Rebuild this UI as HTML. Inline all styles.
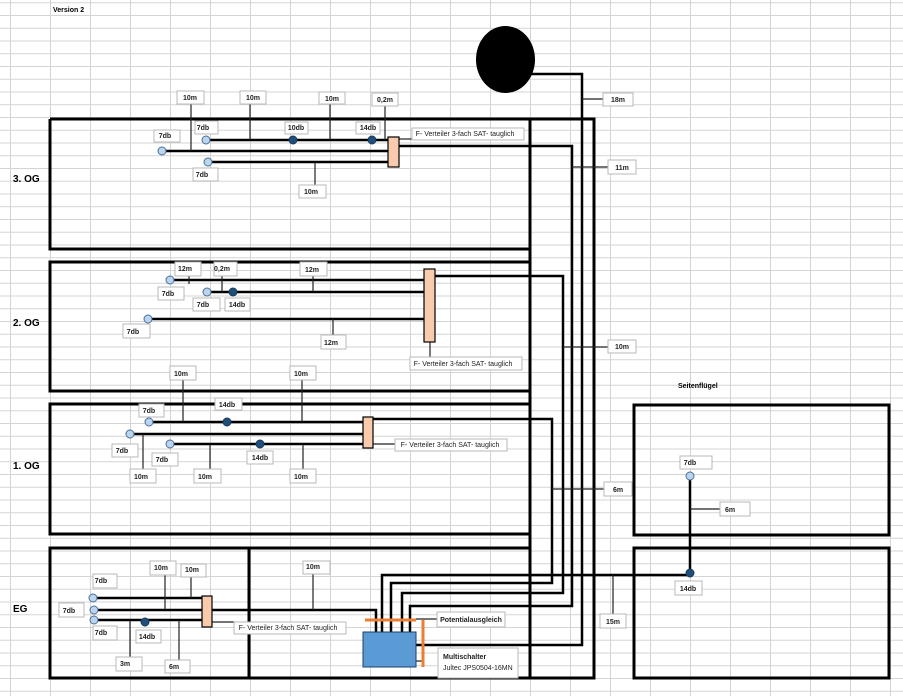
<!DOCTYPE html>
<html><head><meta charset="utf-8"><style>
html,body{margin:0;padding:0;background:#fff;}
svg{display:block;}
text{font-family:"Liberation Sans",sans-serif;}
.lb{fill:#fff;stroke:#b8b8b8;stroke-width:1;}
.lt{font-size:7px;font-weight:bold;fill:#222;text-anchor:middle;}
.k{stroke:#000;stroke-width:3;fill:none;}
.c{stroke:#000;stroke-width:2.5;fill:none;}
.t{stroke:#222;stroke-width:1.2;fill:none;}
.lc{fill:#bcd5ee;stroke:#4a6f9a;stroke-width:1;}
.dc{fill:#1f4e79;stroke:#173c5e;stroke-width:1;}
.sp{fill:#f8cbad;stroke:#000;stroke-width:1.2;}
</style></head><body>
<svg width="903" height="696" viewBox="0 0 903 696" xmlns="http://www.w3.org/2000/svg">
<defs>
<pattern id="gc" x="10" y="0" width="40" height="696" patternUnits="userSpaceOnUse"><line x1="0.5" y1="0" x2="0.5" y2="696" stroke="#d4d4d4" stroke-width="1"/></pattern>
<pattern id="gr" x="0" y="2.25" width="903" height="12.75" patternUnits="userSpaceOnUse"><line x1="0" y1="0.5" x2="903" y2="0.5" stroke="#d4d4d4" stroke-width="1"/></pattern>
</defs>
<rect width="903" height="696" fill="url(#gr)"/>
<rect width="903" height="696" fill="url(#gc)"/>

<text x="53" y="12" style="font-size:7px;font-weight:bold">Version 2</text>
<text x="678" y="388" style="font-size:7px;font-weight:bold">Seitenflügel</text>
<text x="13" y="182" style="font-size:10px;font-weight:bold">3. OG</text>
<text x="13" y="326" style="font-size:10px;font-weight:bold">2. OG</text>
<text x="13" y="469" style="font-size:10px;font-weight:bold">1. OG</text>
<text x="13" y="612" style="font-size:10px;font-weight:bold">EG</text>

<ellipse cx="505.5" cy="59.5" rx="29.5" ry="33.5" fill="#000"/>

<polyline class="k" points="50,119 594,119 594,678 50,678 50,548 530,548"/>
<line class="k" x1="530" y1="119" x2="530" y2="678"/>
<polyline class="k" points="530,249 50,249 50,119"/>
<polyline class="k" points="530,262 50,262 50,391 530,391"/>
<polyline class="k" points="530,404 50,404 50,534 530,534"/>
<line class="k" x1="249" y1="548" x2="249" y2="678"/>
<rect class="k" x="634" y="405" width="255" height="130"/>
<rect class="k" x="634" y="548" width="255" height="130"/>

<polyline class="c" points="530,74 582,74 582,645 416,645"/>
<polyline class="c" points="399,146 572,146 572,606 410,606 410,632"/>
<polyline class="c" points="435,276 563,276 563,593 402,593 402,632"/>
<polyline class="c" points="373,419 552,419 552,583 391,583 391,632"/>
<polyline class="c" points="690,575 382,575 382,632"/>
<polyline class="c" points="212,610 376,610 376,632"/>
<line class="c" x1="690" y1="476" x2="690" y2="575"/>

<line class="t" x1="582" y1="99" x2="603" y2="99"/>
<line class="t" x1="572" y1="167" x2="608" y2="167"/>
<line class="t" x1="563" y1="347" x2="608" y2="347"/>
<line class="t" x1="552" y1="489" x2="604" y2="489"/>
<line class="t" x1="613" y1="575" x2="613" y2="614"/>
<line class="t" x1="690" y1="509" x2="720" y2="509"/>

<line class="c" x1="206" y1="140" x2="388" y2="140"/>
<line class="c" x1="162" y1="151" x2="388" y2="151"/>
<line class="c" x1="208" y1="162" x2="388" y2="162"/>
<line class="t" x1="191" y1="104" x2="191" y2="151"/>
<line class="t" x1="250" y1="104" x2="250" y2="140"/>
<line class="t" x1="330" y1="104" x2="330" y2="140"/>
<line class="t" x1="385" y1="106" x2="385" y2="140"/>
<line class="t" x1="315" y1="162" x2="315" y2="185"/>
<line class="t" x1="399" y1="139" x2="412" y2="139"/>
<rect class="sp" x="388" y="137" width="11" height="30"/>
<circle class="lc" cx="206" cy="140" r="4"/>
<circle class="lc" cx="162" cy="151" r="4"/>
<circle class="lc" cx="208" cy="162" r="4"/>
<circle class="dc" cx="293" cy="140" r="4"/>
<circle class="dc" cx="372" cy="140" r="4"/>

<line class="c" x1="170" y1="280" x2="424" y2="280"/>
<line class="c" x1="207" y1="292" x2="424" y2="292"/>
<line class="c" x1="148" y1="319" x2="424" y2="319"/>
<line class="t" x1="189" y1="276" x2="189" y2="284"/>
<line class="t" x1="222" y1="276" x2="222" y2="292"/>
<line class="t" x1="313" y1="276" x2="313" y2="292"/>
<line class="t" x1="333" y1="319" x2="333" y2="335"/>
<line class="t" x1="430" y1="342" x2="430" y2="357"/>
<rect class="sp" x="424" y="269" width="11" height="73"/>
<circle class="lc" cx="170" cy="280" r="4"/>
<circle class="lc" cx="207" cy="292" r="4"/>
<circle class="lc" cx="148" cy="319" r="4"/>
<circle class="dc" cx="233" cy="292" r="4"/>

<line class="c" x1="149" y1="422" x2="363" y2="422"/>
<line class="c" x1="130" y1="434" x2="363" y2="434"/>
<line class="c" x1="170" y1="444" x2="363" y2="444"/>
<line class="t" x1="183" y1="380" x2="183" y2="422"/>
<line class="t" x1="302" y1="380" x2="302" y2="422"/>
<line class="t" x1="143" y1="434" x2="143" y2="469"/>
<line class="t" x1="210" y1="444" x2="210" y2="469"/>
<line class="t" x1="303" y1="444" x2="303" y2="469"/>
<line class="t" x1="373" y1="444" x2="395" y2="444"/>
<rect class="sp" x="363" y="417" width="10" height="31"/>
<circle class="lc" cx="149" cy="422" r="4"/>
<circle class="lc" cx="130" cy="434" r="4"/>
<circle class="lc" cx="170" cy="444" r="4"/>
<circle class="dc" cx="227" cy="422" r="4"/>
<circle class="dc" cx="260" cy="444" r="4"/>

<line class="c" x1="93" y1="598" x2="202" y2="598"/>
<line class="c" x1="94" y1="610" x2="202" y2="610"/>
<line class="c" x1="94" y1="620" x2="202" y2="620"/>
<line class="t" x1="165" y1="575" x2="165" y2="610"/>
<line class="t" x1="191" y1="577" x2="191" y2="598"/>
<line class="t" x1="313" y1="574" x2="313" y2="610"/>
<line class="t" x1="130" y1="620" x2="130" y2="657"/>
<line class="t" x1="179" y1="620" x2="179" y2="660"/>
<line class="t" x1="212" y1="622" x2="234" y2="622"/>
<rect class="sp" x="202" y="596" width="10" height="31"/>
<circle class="lc" cx="93" cy="598" r="4"/>
<circle class="lc" cx="94" cy="610" r="4"/>
<circle class="lc" cx="94" cy="620" r="4"/>
<circle class="dc" cx="145" cy="622" r="4"/>

<circle class="lc" cx="690" cy="476" r="4"/>
<circle class="dc" cx="690" cy="573" r="4"/>

<line class="t" x1="416" y1="619" x2="437" y2="619"/>
<line class="t" x1="416" y1="661" x2="423" y2="661"/>
<rect x="363" y="632" width="53" height="35" fill="#5b9bd5" stroke="#1f3f66" stroke-width="1"/>
<line x1="365" y1="620" x2="416" y2="620" stroke="#ed7d31" stroke-width="3"/>
<line x1="423" y1="620" x2="423" y2="667" stroke="#ed7d31" stroke-width="3"/>

<g>
<rect class="lb" x="603" y="93" width="30" height="13"/><text class="lt" x="618" y="102">18m</text>
<rect class="lb" x="608" y="160" width="28" height="14"/><text class="lt" x="622" y="170">11m</text>
<rect class="lb" x="608" y="340" width="28" height="13"/><text class="lt" x="622" y="349">10m</text>
<rect class="lb" x="604" y="482" width="28" height="14"/><text class="lt" x="618" y="492">6m</text>
<rect class="lb" x="600" y="614" width="26" height="14"/><text class="lt" x="613" y="624">15m</text>
<rect class="lb" x="680" y="456" width="32" height="13"/><text class="lt" x="690" y="465">7db</text>
<rect class="lb" x="720" y="502" width="30" height="14"/><text class="lt" x="730" y="512">6m</text>
<rect class="lb" x="675" y="581" width="27" height="14"/><text class="lt" x="688" y="591">14db</text>

<rect class="lb" x="177" y="91" width="27" height="13"/><text class="lt" x="190" y="100">10m</text>
<rect class="lb" x="240" y="91" width="26" height="13"/><text class="lt" x="253" y="100">10m</text>
<rect class="lb" x="319" y="92" width="26" height="12"/><text class="lt" x="332" y="101">10m</text>
<rect class="lb" x="372" y="93" width="26" height="13"/><text class="lt" x="385" y="102">0,2m</text>
<rect class="lb" x="154" y="130" width="26" height="12"/><text class="lt" x="165" y="138">7db</text>
<rect class="lb" x="195" y="121" width="23" height="13"/><text class="lt" x="203" y="130">7db</text>
<rect class="lb" x="285" y="122" width="23" height="12"/><text class="lt" x="296" y="130">10db</text>
<rect class="lb" x="356" y="122" width="24" height="12"/><text class="lt" x="368" y="130">14db</text>
<rect class="lb" x="193" y="168" width="25" height="13"/><text class="lt" x="202" y="177">7db</text>
<rect class="lb" x="299" y="185" width="27" height="13"/><text class="lt" x="311" y="194">10m</text>
<rect class="lb" x="412" y="128" width="112" height="12"/><text class="lt" x="465" y="136" style="font-weight:normal">F- Verteiler 3-fach SAT- tauglich</text>

<rect class="lb" x="175" y="262" width="26" height="14"/><text class="lt" x="185" y="271">12m</text>
<rect class="lb" x="214" y="262" width="23" height="14"/><text class="lt" x="222" y="271">0,2m</text>
<rect class="lb" x="300" y="262" width="27" height="14"/><text class="lt" x="312" y="272">12m</text>
<rect class="lb" x="158" y="287" width="26" height="13"/><text class="lt" x="168" y="296">7db</text>
<rect class="lb" x="193" y="298" width="27" height="13"/><text class="lt" x="203" y="307">7db</text>
<rect class="lb" x="225" y="298" width="25" height="13"/><text class="lt" x="237" y="307">14db</text>
<rect class="lb" x="123" y="324" width="27" height="14"/><text class="lt" x="133" y="334">7db</text>
<rect class="lb" x="321" y="335" width="25" height="14"/><text class="lt" x="331" y="345">12m</text>
<rect class="lb" x="410" y="357" width="112" height="13"/><text class="lt" x="463" y="366" style="font-weight:normal">F- Verteiler 3-fach SAT- tauglich</text>

<rect class="lb" x="170" y="366" width="26" height="14"/><text class="lt" x="181" y="376">10m</text>
<rect class="lb" x="290" y="366" width="26" height="14"/><text class="lt" x="301" y="376">10m</text>
<rect class="lb" x="215" y="398" width="27" height="12"/><text class="lt" x="227" y="407">14db</text>
<rect class="lb" x="139" y="404" width="25" height="13"/><text class="lt" x="149" y="413">7db</text>
<rect class="lb" x="112" y="444" width="26" height="13"/><text class="lt" x="122" y="453">7db</text>
<rect class="lb" x="152" y="453" width="26" height="13"/><text class="lt" x="162" y="462">7db</text>
<rect class="lb" x="247" y="451" width="26" height="13"/><text class="lt" x="260" y="460">14db</text>
<rect class="lb" x="130" y="469" width="26" height="14"/><text class="lt" x="141" y="479">10m</text>
<rect class="lb" x="194" y="469" width="27" height="14"/><text class="lt" x="205" y="479">10m</text>
<rect class="lb" x="290" y="469" width="26" height="14"/><text class="lt" x="301" y="479">10m</text>
<rect class="lb" x="395" y="439" width="112" height="12"/><text class="lt" x="450" y="447" style="font-weight:normal">F- Verteiler 3-fach SAT- tauglich</text>

<rect class="lb" x="150" y="561" width="26" height="14"/><text class="lt" x="161" y="570">10m</text>
<rect class="lb" x="181" y="564" width="25" height="13"/><text class="lt" x="192" y="572">10m</text>
<rect class="lb" x="303" y="561" width="27" height="13"/><text class="lt" x="313" y="569">10m</text>
<rect class="lb" x="93" y="574" width="24" height="14"/><text class="lt" x="101" y="583">7db</text>
<rect class="lb" x="59" y="603" width="25" height="14"/><text class="lt" x="69" y="613">7db</text>
<rect class="lb" x="93" y="626" width="24" height="14"/><text class="lt" x="101" y="635">7db</text>
<rect class="lb" x="136" y="630" width="25" height="13"/><text class="lt" x="147" y="639">14db</text>
<rect class="lb" x="116" y="657" width="26" height="14"/><text class="lt" x="125" y="666">3m</text>
<rect class="lb" x="165" y="660" width="25" height="13"/><text class="lt" x="174" y="669">6m</text>
<rect class="lb" x="234" y="622" width="112" height="12"/><text class="lt" x="288" y="630" style="font-weight:normal">F- Verteiler 3-fach SAT- tauglich</text>

<rect class="lb" x="437" y="612" width="68" height="15"/><text class="lt" x="471" y="622">Potentialausgleich</text>
<rect class="lb" x="438" y="648" width="80" height="30"/>
<text x="443" y="659" style="font-size:7px;font-weight:bold;fill:#222">Multischalter</text>
<text x="443" y="670" style="font-size:7px;fill:#222">Jultec JPS0504-16MN</text>
</g>
</svg>
</body></html>
